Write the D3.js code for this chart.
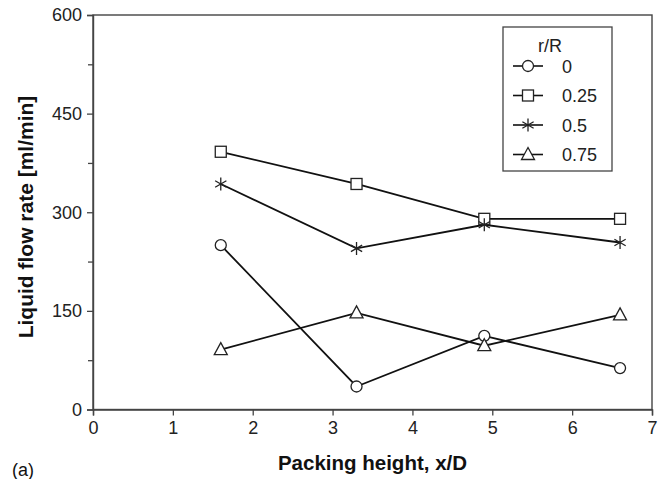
<!DOCTYPE html>
<html>
<head>
<meta charset="utf-8">
<script src="https://cdn.jsdelivr.net/npm/d3@7"></script>
<style>
  body { margin: 0; background: #fff; }
  svg { font-family: "Liberation Sans", Arial, sans-serif; }
</style>
</head>
<body>
<svg id="chart" width="664" height="479"></svg>
<script>
/* data */
const heights = [1.6, 3.3, 4.9, 6.6];
const seriesNames = ["0", "0.25", "0.5", "0.75"];
const markers = ["circle", "square", "star", "triangle"];
const flow0 = [250, 35, 112, 63];
const flow025 = [392, 343, 290, 290];
const flow05 = [343, 245, 281, 254];
const flow075 = [91, 147, 97, 144];
const xTicks = [0, 1, 2, 3, 4, 5, 6, 7];
const yTicks = [0, 150, 300, 450, 600];
const yMinorTicks = [75, 225, 375, 525];

const allSeries = [flow0, flow025, flow05, flow075].map((vals, i) => ({
  name: seriesNames[i],
  marker: markers[i],
  values: vals.map((v, j) => ({ x: heights[j], y: v }))
}));

const margin = { top: 15, right: 12, bottom: 69.5, left: 93 },
  width = 664 - margin.left - margin.right,
  height = 479 - margin.top - margin.bottom;

const svg = d3.select("#chart")
  .append("g")
  .attr("transform", `translate(${margin.left}, ${margin.top})`);

const x = d3.scaleLinear().domain([0, 7]).range([0, width]);
const y = d3.scaleLinear().domain([0, 600]).range([height, 0]);

/* frame */
svg.append("rect")
  .attr("width", width).attr("height", height)
  .attr("fill", "none").attr("stroke", "#444").attr("stroke-width", 1.4);

/* axes */
svg.append("g")
  .attr("transform", `translate(0, ${height})`)
  .call(d3.axisBottom(x).tickValues(xTicks).tickSize(6).tickPadding(6).tickFormat(d3.format("d")));

svg.append("g")
  .call(d3.axisLeft(y).tickValues(yTicks).tickSize(6).tickPadding(5));

svg.append("g")
  .call(d3.axisLeft(y).tickValues(yMinorTicks).tickSize(5).tickFormat(""))
  .select(".domain").remove();

svg.selectAll(".domain").attr("stroke", "#444").attr("stroke-width", 1.4);
svg.selectAll(".tick line").attr("stroke", "#444").attr("stroke-width", 1.3);
svg.selectAll(".tick text").attr("font-size", 18).attr("fill", "#222")
  .attr("font-family", "Liberation Sans, Arial, sans-serif");

/* axis titles */
svg.append("text")
  .attr("x", x(3.5)).attr("y", 470 - margin.top)
  .attr("text-anchor", "middle")
  .attr("font-size", 20.5).attr("font-weight", "bold").attr("fill", "#111")
  .text("Packing height, x/D");

svg.append("text")
  .attr("transform", `translate(${33 - margin.left}, ${217 - margin.top}) rotate(-90)`)
  .attr("text-anchor", "middle")
  .attr("font-size", 21).attr("font-weight", "bold").attr("fill", "#111")
  .text("Liquid flow rate [ml/min]");

svg.append("text")
  .attr("x", 12 - margin.left).attr("y", 476 - margin.top)
  .attr("font-size", 18).attr("fill", "#111")
  .text("(a)");

/* marker drawing */
function drawMarker(g, type, cx, cy) {
  const s = { fill: "#fff", stroke: "#222", "stroke-width": 1.3 };
  let m;
  if (type === "circle") {
    m = g.append("circle").attr("cx", cx).attr("cy", cy).attr("r", 5.5);
  } else if (type === "square") {
    m = g.append("rect").attr("x", cx - 5.5).attr("y", cy - 5.5).attr("width", 11).attr("height", 11);
  } else if (type === "triangle") {
    m = g.append("path").attr("d", `M${cx},${cy - 7}L${cx + 6.5},${cy + 5}L${cx - 6.5},${cy + 5}Z`);
  } else {
    const p = d3.path();
    const r = 6.5;
    [0, 60, 120].forEach(a => {
      const t = (a + 90) * Math.PI / 180;
      p.moveTo(cx + r * Math.cos(t), cy + r * Math.sin(t));
      p.lineTo(cx - r * Math.cos(t), cy - r * Math.sin(t));
    });
    m = g.append("path").attr("d", p.toString());
    s.fill = "none";
  }
  Object.entries(s).forEach(([k, v]) => m.attr(k, v));
}

/* lines */
const line = d3.line().x(d => x(d.x)).y(d => y(d.y));

allSeries.forEach(s => {
  svg.append("path")
    .datum(s.values)
    .attr("fill", "none")
    .attr("stroke", "#111")
    .attr("stroke-width", 1.8)
    .attr("d", line);
});

allSeries.forEach(s => {
  const g = svg.append("g");
  s.values.forEach(d => drawMarker(g, s.marker, x(d.x), y(d.y)));
});

/* legend */
const legend = svg.append("g").attr("transform", `translate(${503 - margin.left}, ${27 - margin.top})`);
legend.append("rect")
  .attr("width", 109).attr("height", 144)
  .attr("fill", "#fff").attr("stroke", "#444").attr("stroke-width", 1.3);
legend.append("text")
  .attr("x", 47).attr("y", 25)
  .attr("text-anchor", "middle")
  .attr("font-size", 18).attr("fill", "#222")
  .text("r/R");
allSeries.forEach((s, i) => {
  const ly = 39 + i * 29.5;
  legend.append("line")
    .attr("x1", 10).attr("x2", 40).attr("y1", ly).attr("y2", ly)
    .attr("stroke", "#111").attr("stroke-width", 1.6);
  drawMarker(legend, s.marker, 25, ly);
  legend.append("text")
    .attr("x", 59).attr("y", ly + 6.5)
    .attr("font-size", 18).attr("fill", "#222")
    .text(s.name);
});
</script>
</body>
</html>
